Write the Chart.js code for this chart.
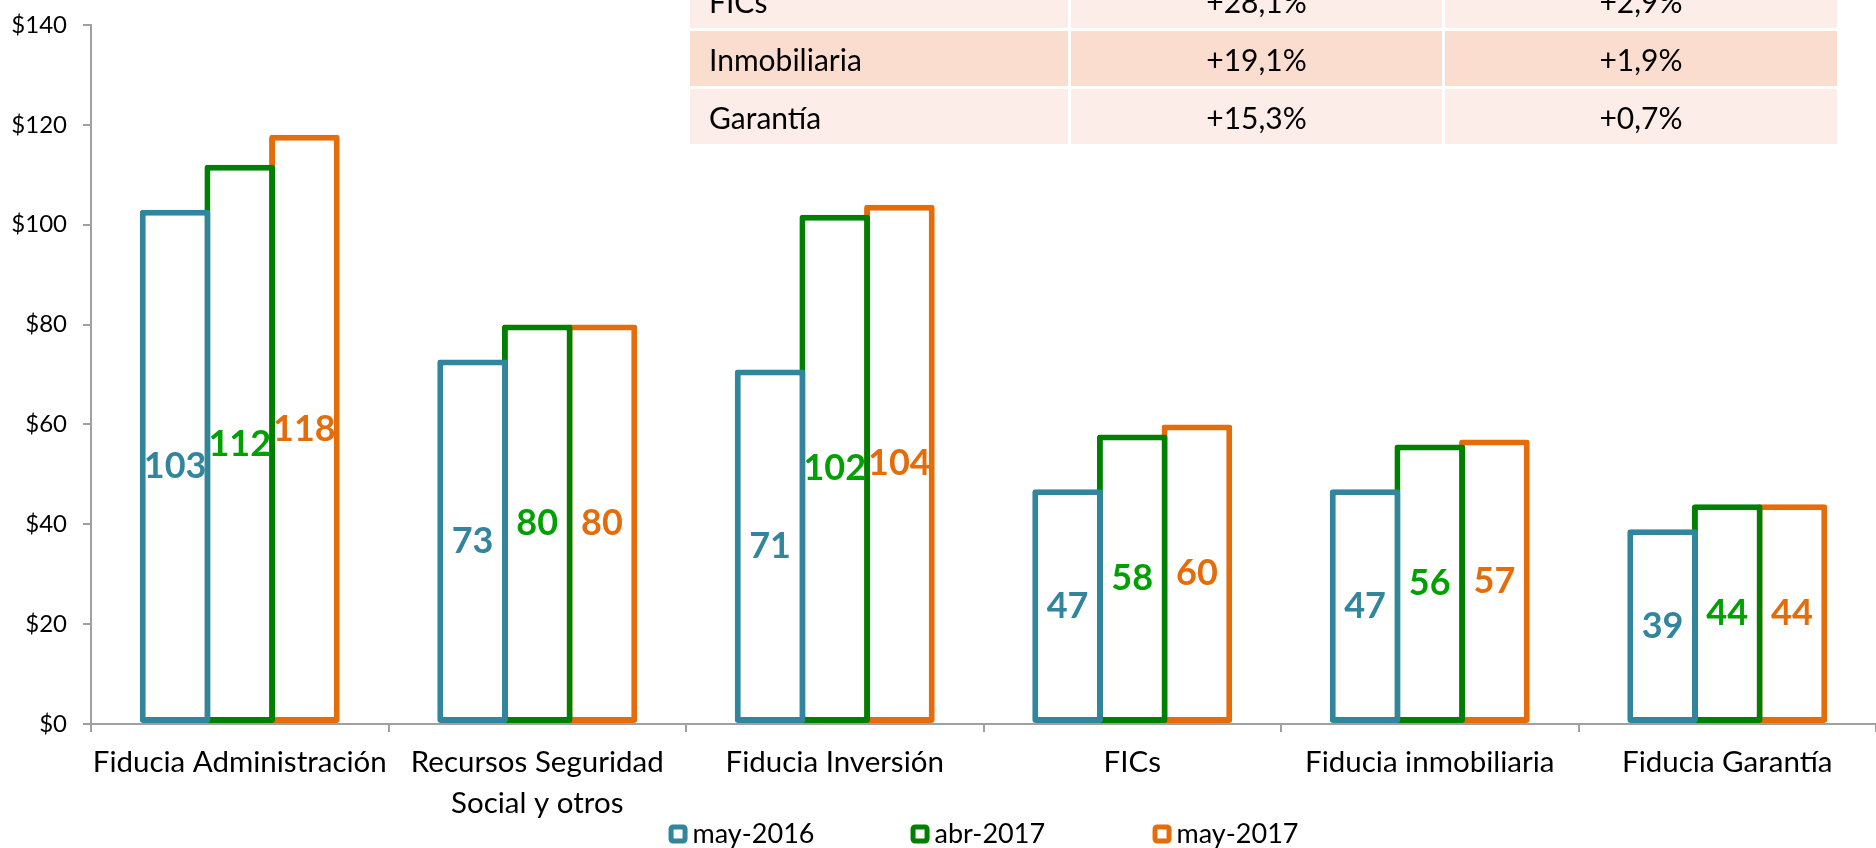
<!DOCTYPE html>
<html>
<head>
<meta charset="utf-8">
<script src="https://cdn.jsdelivr.net/npm/chart.js@4.4.1/dist/chart.umd.min.js"></script>
<style>
  html, body { margin: 0; padding: 0; background: #fff; overflow: hidden; }
  #wrap { position: relative; width: 1876px; height: 848px; }
  #chart { position: absolute; left: 0; top: 0; }
  .tbl { position: absolute; left: 690px; top: -27px; font-family: Lato, sans-serif; font-size: 30px; color: #000; }
  .tbl .row { display: flex; height: 55px; margin-bottom: 3px; }
  .tbl .cell { display: flex; align-items: center; justify-content: center; margin-right: 3px; background: #fcede9; }
  .tbl .row.dark .cell { background: #fbddd0; }
  .tbl .cell:first-child { justify-content: flex-start; padding-left: 19px; width: 359px; }
  .tbl .cell:nth-child(2) { width: 371px; }
  .tbl .cell:nth-child(3) { width: 392px; margin-right: 0; }
</style>
</head>
<body>
<div id="wrap">
  <canvas id="chart" width="1876" height="848"></canvas>
  <div class="tbl" id="tbl"></div>
</div>
<script>
// datos del gráfico
const categories = [
  'Fiducia Administración',
  ['Recursos Seguridad', 'Social y otros'],
  'Fiducia Inversión',
  'FICs',
  'Fiducia inmobiliaria',
  'Fiducia Garantía'
];
const seriesNames = ['may-2016', 'abr-2017', 'may-2017'];
const may2016 = [103, 73, 71, 47, 47, 39];
const abr2017 = [112, 80, 102, 58, 56, 44];
const may2017 = [118, 80, 104, 60, 57, 44];
const yMin = 0, yMax = 140, yStep = 20;

// tabla de variaciones (arriba a la derecha)
const tableRows = [
  ['FICs', '+28,1%', '+2,9%'],
  ['Inmobiliaria', '+19,1%', '+1,9%'],
  ['Garantía', '+15,3%', '+0,7%']
];

const barColors = ['#31859c', '#008000', '#e46c0a'];
const labelColors = ['#31859c', '#00a000', '#e46c0a'];

const tbl = document.getElementById('tbl');
tableRows.forEach((r, i) => {
  const row = document.createElement('div');
  row.className = 'row' + (i === 1 ? ' dark' : '');
  row.innerHTML = r.map(t => `<div class="cell">${t}</div>`).join('');
  tbl.appendChild(row);
});

// etiquetas centradas dentro de cada barra
const centerLabels = {
  id: 'centerLabels',
  afterDatasetsDraw(chart) {
    const ctx = chart.ctx;
    ctx.save();
    ctx.font = 'bold 36px Lato';
    ctx.textAlign = 'center';
    ctx.textBaseline = 'middle';
    chart.data.datasets.forEach((ds, i) => {
      chart.getDatasetMeta(i).data.forEach((bar, j) => {
        ctx.fillStyle = labelColors[i];
        ctx.fillText(ds.data[j], bar.x, (bar.y + bar.base) / 2);
      });
    });
    ctx.restore();
  }
};

// leyenda con paso fijo, como en Excel
const fixedLegend = {
  id: 'fixedLegend',
  afterDraw(chart) {
    const ctx = chart.ctx;
    const area = chart.chartArea;
    const pitch = 242, box = 19, y = 834;
    ctx.save();
    ctx.font = '27px Lato';
    const lastW = box + 5 + ctx.measureText(seriesNames[seriesNames.length - 1]).width;
    const total = pitch * (seriesNames.length - 1) + lastW;
    let x = (area.left + area.right) / 2 - total / 2;
    seriesNames.forEach((name, i) => {
      ctx.fillStyle = '#fff';
      ctx.strokeStyle = barColors[i];
      ctx.lineWidth = 5;
      ctx.beginPath();
      ctx.roundRect(x + 2.5, y - box / 2 + 2.5, box - 5, box - 5, 2);
      ctx.fill();
      ctx.stroke();
      ctx.fillStyle = '#000';
      ctx.textAlign = 'left';
      ctx.textBaseline = 'middle';
      ctx.fillText(name, x + box + 5, y);
      x += pitch;
    });
    ctx.restore();
  }
};

const series = [may2016, abr2017, may2017];

new Chart(document.getElementById('chart'), {
  type: 'bar',
  data: {
    labels: categories,
    datasets: series.map((d, i) => ({
      label: seriesNames[i],
      data: d,
      backgroundColor: '#ffffff',
      borderColor: barColors[i],
      borderWidth: 6,
      borderRadius: 3,
      borderSkipped: false,
      categoryPercentage: 0.652,
      barPercentage: 1.093
    }))
  },
  options: {
    responsive: false,
    animation: false,
    layout: { padding: { top: 25, right: 0, bottom: 26, left: 0 } },
    plugins: {
      legend: { display: false },
      tooltip: { enabled: false }
    },
    scales: {
      x: {
        afterFit(s) { s.height = 98; },
        grid: { drawOnChartArea: false, tickLength: 8, color: '#a0a0a0', lineWidth: 2, offset: true },
        border: { color: '#a0a0a0', width: 2 },
        ticks: {
          color: '#000',
          padding: 10,
          maxRotation: 0,
          autoSkip: false,
          font: { family: 'Lato', size: 29.5, lineHeight: 1.39 }
        }
      },
      y: {
        min: yMin,
        max: yMax,
        afterFit(s) { s.width = 91; s.paddingTop = 0; s.paddingBottom = 0; },
        grid: { drawOnChartArea: false, tickLength: 8, color: '#a0a0a0', lineWidth: 2 },
        border: { color: '#a0a0a0', width: 2 },
        ticks: {
          stepSize: yStep,
          color: '#000',
          padding: 16,
          font: { family: 'Lato', size: 24 },
          callback: v => '$' + v
        }
      }
    }
  },
  plugins: [centerLabels, fixedLegend]
});
</script>
</body>
</html>
